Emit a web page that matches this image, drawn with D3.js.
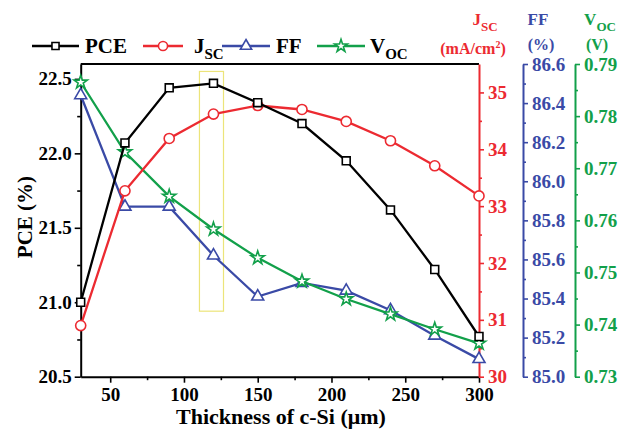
<!DOCTYPE html>
<html>
<head>
<meta charset="utf-8">
<script src="https://cdn.jsdelivr.net/npm/d3@7"></script>
<style>
html,body{margin:0;padding:0;background:#fff;}
svg{display:block;}
text{font-family:"Liberation Serif","Times New Roman",serif;font-weight:bold;}
</style>
</head>
<body>
<svg id="chart" width="622" height="429"></svg>
<script>
// ---------- data ----------
const thickness = [30, 60, 90, 120, 150, 180, 210, 240, 270, 300];
const pce = [21.00, 22.07, 22.44, 22.47, 22.34, 22.20, 21.95, 21.62, 21.22, 20.77];
const jsc = [30.90, 33.27, 34.19, 34.62, 34.77, 34.70, 34.49, 34.15, 33.71, 33.18];
const ff  = [86.44, 85.87, 85.87, 85.62, 85.41, 85.48, 85.44, 85.34, 85.21, 85.09];
const voc = [0.7865, 0.7731, 0.7646, 0.7583, 0.7528, 0.7483, 0.7449, 0.7420, 0.7391, 0.7364];

const xTicks = [50, 100, 150, 200, 250, 300];
const xMinor = [75, 125, 175, 225, 275];
const pceTicks = [20.5, 21.0, 21.5, 22.0, 22.5];
const pceMinor = [20.75, 21.25, 21.75, 22.25];
const jscTicks = [30, 31, 32, 33, 34, 35];
const jscMinor = [30.5, 31.5, 32.5, 33.5, 34.5];
const ffTicks = [85.0, 85.2, 85.4, 85.6, 85.8, 86.0, 86.2, 86.4, 86.6];
const ffMinor = [85.1, 85.3, 85.5, 85.7, 85.9, 86.1, 86.3, 86.5];
const vocTicks = [0.73, 0.74, 0.75, 0.76, 0.77, 0.78, 0.79];
const vocMinor = [0.735, 0.745, 0.755, 0.765, 0.775, 0.785];

const highlightX = [110.5, 126.8];
const highlightY = [20.94, 22.55];

// ---------- layout ----------
const L = 80.7, R = 479, T = 64, B = 376.7;
const blueX = 523, greenX = 575;
const cRed = "#ec2a31", cBlue = "#3a4aa6", cGreen = "#12a04a", cBlack = "#000";

const svg = d3.select("#chart");

const x = d3.scaleLinear().domain([30, 300]).range([L, R]);
const yP = d3.scaleLinear().domain([20.5, 22.6]).range([B, T]);
const yJ = d3.scaleLinear().domain([30, 35.5]).range([B, T]);
const yF = d3.scaleLinear().domain([85.0, 86.6]).range([B, T]);
const yV = d3.scaleLinear().domain([0.73, 0.79]).range([B, T]);

function styleAxis(g, color, fs) {
  g.selectAll("path.domain").attr("stroke", color).attr("stroke-width", 2);
  g.selectAll(".tick line").attr("stroke", color).attr("stroke-width", 1.6);
  g.selectAll(".tick text").attr("fill", color).attr("font-size", fs)
    .attr("font-family", '"Liberation Serif","Times New Roman",serif').attr("font-weight", "bold");
}

// highlight box
svg.append("rect")
  .attr("x", x(highlightX[0])).attr("y", yP(highlightY[1]))
  .attr("width", x(highlightX[1]) - x(highlightX[0]))
  .attr("height", yP(highlightY[0]) - yP(highlightY[1]))
  .attr("fill", "none").attr("stroke", "#ece47a").attr("stroke-width", 1.2);

// top frame
svg.append("line").attr("x1", L).attr("x2", R).attr("y1", T).attr("y2", T)
  .attr("stroke", cBlack).attr("stroke-width", 2);

// bottom axis
const gx = svg.append("g").attr("transform", `translate(0,${B})`)
  .call(d3.axisBottom(x).tickValues(xTicks).tickSizeInner(6).tickSizeOuter(0).tickPadding(4).tickFormat(d3.format("d")));
styleAxis(gx, cBlack, 19);
gx.selectAll(".tick text").attr("dy", "0.75em");
const gxm = svg.append("g").attr("transform", `translate(0,${B})`)
  .call(d3.axisBottom(x).tickValues(xMinor).tickSizeInner(3.5).tickSizeOuter(0).tickFormat(""));
gxm.select("path.domain").remove();
styleAxis(gxm, cBlack, 19);

// left axis
const gl = svg.append("g").attr("transform", `translate(${L},0)`)
  .call(d3.axisLeft(yP).tickValues(pceTicks).tickSizeInner(6).tickSizeOuter(0).tickPadding(3).tickFormat(d3.format(".1f")));
styleAxis(gl, cBlack, 19);
const glm = svg.append("g").attr("transform", `translate(${L},0)`)
  .call(d3.axisLeft(yP).tickValues(pceMinor).tickSizeInner(3.5).tickSizeOuter(0).tickFormat(""));
glm.select("path.domain").remove();
styleAxis(glm, cBlack, 19);

// right axes
function rightAxis(px, scale, major, minor, fmt, color) {
  const g = svg.append("g").attr("transform", `translate(${px},0)`)
    .call(d3.axisRight(scale).tickValues(major).tickSizeInner(5).tickSizeOuter(0).tickPadding(4).tickFormat(fmt));
  styleAxis(g, color, 19);
  const gm = svg.append("g").attr("transform", `translate(${px},0)`)
    .call(d3.axisRight(scale).tickValues(minor).tickSizeInner(3).tickSizeOuter(0).tickFormat(""));
  gm.select("path.domain").remove();
  styleAxis(gm, color, 19);
}
rightAxis(R, yJ, jscTicks, jscMinor, d3.format("d"), cRed);
rightAxis(blueX, yF, ffTicks, ffMinor, d3.format(".1f"), cBlue);
rightAxis(greenX, yV, vocTicks, vocMinor, d3.format(".2f"), cGreen);

// axis titles
svg.append("text").attr("x", 281).attr("y", 424).attr("text-anchor", "middle")
  .attr("font-size", 22).attr("fill", cBlack).text("Thickness of c-Si (\u03bcm)");
svg.append("text").attr("transform", "translate(32,217) rotate(-90)").attr("text-anchor", "middle")
  .attr("font-size", 21).attr("fill", cBlack).text("PCE (%)");

function subTitle(cx, y, main, sub, color) {
  const t = svg.append("text").attr("x", cx).attr("y", y).attr("text-anchor", "middle")
    .attr("font-size", 17).attr("fill", color);
  t.append("tspan").text(main);
  t.append("tspan").attr("dy", 6).attr("font-size", 13).text(sub);
}
subTitle(485, 25, "J", "SC", cRed);
svg.append("text").attr("x", 473).attr("y", 54).attr("text-anchor", "middle").attr("font-size", 16).attr("fill", cRed)
  .html('(mA/cm<tspan dy="-6" font-size="10">2</tspan><tspan dy="6">)</tspan>');
svg.append("text").attr("x", 538).attr("y", 25).attr("text-anchor", "middle").attr("font-size", 17).attr("fill", cBlue).text("FF");
svg.append("text").attr("x", 541).attr("y", 50).attr("text-anchor", "middle").attr("font-size", 16).attr("fill", cBlue).text("(%)");
subTitle(600, 25, "V", "OC", cGreen);
svg.append("text").attr("x", 597).attr("y", 50).attr("text-anchor", "middle").attr("font-size", 16).attr("fill", cGreen).text("(V)");

// series
const series = [
  {name: "FF", vals: ff, y: yF, color: cBlue, sym: d3.symbolTriangle, size: 62},
  {name: "Voc", vals: voc, y: yV, color: cGreen, sym: d3.symbolStar, size: 55},
  {name: "Jsc", vals: jsc, y: yJ, color: cRed, sym: d3.symbolCircle, size: 80},
  {name: "PCE", vals: pce, y: yP, color: cBlack, sym: d3.symbolSquare, size: 62}
];
series.forEach(s => {
  const pts = thickness.map((t, i) => [t, s.vals[i]]);
  svg.append("path").datum(pts)
    .attr("fill", "none").attr("stroke", s.color).attr("stroke-width", 2.3)
    .attr("d", d3.line().x(d => x(d[0])).y(d => s.y(d[1])));
  svg.selectAll(null).data(pts).enter().append("path")
    .attr("transform", d => `translate(${x(d[0])},${s.y(d[1])})`)
    .attr("d", d3.symbol().type(s.sym).size(s.size))
    .attr("fill", "#fff").attr("stroke", s.color).attr("stroke-width", 1.6);
});

// legend
const legend = [
  {label: "PCE", sub: "", color: cBlack, sym: d3.symbolSquare, size: 50, x0: 32, x1: 79, tx: 85},
  {label: "J", sub: "SC", color: cRed, sym: d3.symbolCircle, size: 65, x0: 143, x1: 183, tx: 194},
  {label: "FF", sub: "", color: cBlue, sym: d3.symbolTriangle, size: 55, x0: 222, x1: 270, tx: 276},
  {label: "V", sub: "OC", color: cGreen, sym: d3.symbolStar, size: 50, x0: 317, x1: 365, tx: 370}
];
const ly = 46;
legend.forEach(l => {
  svg.append("line").attr("x1", l.x0).attr("x2", l.x1).attr("y1", ly).attr("y2", ly)
    .attr("stroke", l.color).attr("stroke-width", 2.4);
  svg.append("path").attr("transform", `translate(${(l.x0 + l.x1) / 2},${ly})`)
    .attr("d", d3.symbol().type(l.sym).size(l.size))
    .attr("fill", "#fff").attr("stroke", l.color).attr("stroke-width", 1.6);
  const t = svg.append("text").attr("x", l.tx).attr("y", 53).attr("font-size", 21).attr("fill", cBlack);
  t.append("tspan").text(l.label);
  if (l.sub) t.append("tspan").attr("dy", 6).attr("font-size", 15).text(l.sub);
});
</script>
</body>
</html>
